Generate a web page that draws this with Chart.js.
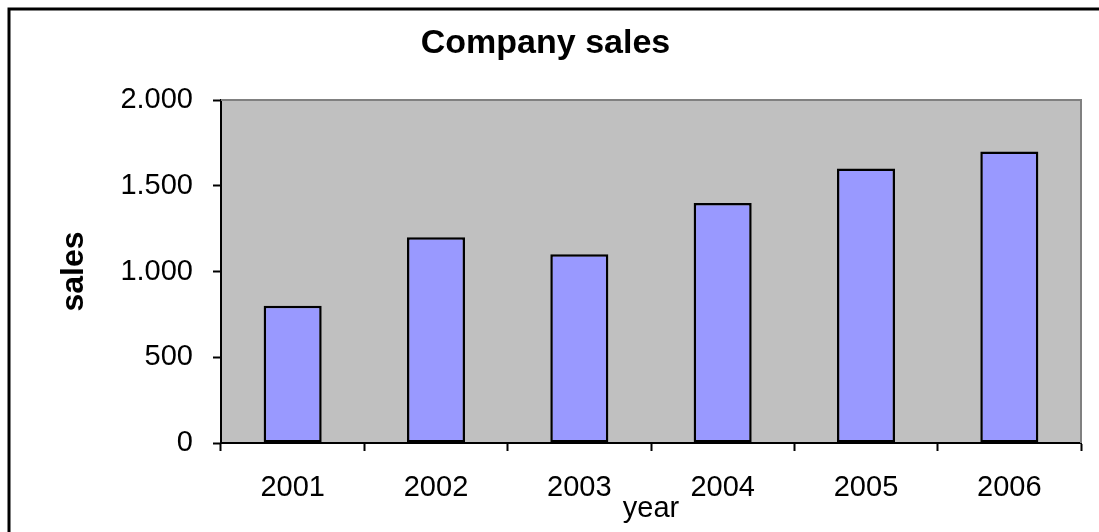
<!DOCTYPE html>
<html>
<head>
<meta charset="utf-8">
<script src="https://cdn.jsdelivr.net/npm/chart.js@4"></script>
<style>
  html, body { margin: 0; padding: 0; background: #fff; }
  #wrap { width: 1099px; height: 532px; }
</style>
</head>
<body>
<div id="wrap"><canvas id="salesChart"></canvas></div>
<script>
// chart data
const years = ['2001', '2002', '2003', '2004', '2005', '2006'];
const sales = [800, 1200, 1100, 1400, 1600, 1700];
const yTicks = [0, 500, 1000, 1500, 2000];

const FONT = "'Liberation Sans', Arial, sans-serif";

// dots as thousands separator, like the original
function fmt(v) {
  return String(v).replace(/\B(?=(\d{3})+(?!\d))/g, '.');
}

// grey plot area + outer frame
const plotBg = {
  id: 'plotBg',
  beforeDraw(chart) {
    const { ctx, chartArea: a } = chart;
    ctx.save();
    ctx.fillStyle = '#C0C0C0';
    ctx.fillRect(a.left, a.top, a.right - a.left, a.bottom - a.top);
    ctx.restore();
  },
  afterDraw(chart) {
    const { ctx, chartArea: a, width, height } = chart;
    ctx.save();
    // top + right edge of plot area
    ctx.strokeStyle = '#808080';
    ctx.lineWidth = 2;
    ctx.beginPath();
    ctx.moveTo(a.left, a.top);
    ctx.lineTo(a.right, a.top);
    ctx.lineTo(a.right, a.bottom);
    ctx.stroke();
    // outer frame (only left and top are visible)
    ctx.strokeStyle = '#000';
    ctx.lineWidth = 3;
    ctx.beginPath();
    ctx.moveTo(9, height);
    ctx.lineTo(9, 9);
    ctx.lineTo(width, 9);
    ctx.stroke();
    ctx.restore();
  }
};

const ctx = document.getElementById('salesChart').getContext('2d');
const salesChart = new Chart(ctx, {
  type: 'bar',
  data: {
    labels: years,
    datasets: [{
      label: 'sales',
      data: sales,
      backgroundColor: '#9999FF',
      borderColor: '#000',
      borderWidth: 2.5,
      borderSkipped: false,
      barPercentage: 0.405,
      categoryPercentage: 1
    }]
  },
  options: {
    responsive: true,
    maintainAspectRatio: false,
    animation: false,
    layout: { padding: { left: 10, right: 18, top: 0, bottom: 0 } },
    plugins: {
      legend: { display: false },
      tooltip: { enabled: false },
      title: {
        display: true,
        text: 'Company sales',
        color: '#000',
        font: { family: FONT, size: 34, weight: 'bold' },
        padding: { top: 23, bottom: 36.2 }
      }
    },
    scales: {
      x: {
        offset: true,
        grid: {
          offset: true,
          drawOnChartArea: false,
          tickLength: 8,
          tickWidth: 2,
          tickColor: '#000'
        },
        border: { color: '#000', width: 2 },
        ticks: {
          color: '#000',
          padding: 20,
          maxRotation: 0,
          font: { family: FONT, size: 29 }
        },
        title: {
          display: true,
          text: 'year',
          color: '#000',
          font: { family: FONT, size: 29 },
          padding: { top: 0, bottom: 6 }
        },
        afterFit(scale) { scale.height = 89; }
      },
      y: {
        min: 0,
        max: 2000,
        afterBuildTicks(scale) {
          scale.ticks = yTicks.map(v => ({ value: v }));
        },
        grid: {
          drawOnChartArea: false,
          tickLength: 8,
          tickWidth: 2,
          tickColor: '#000'
        },
        border: { color: '#000', width: 2 },
        ticks: {
          color: '#000',
          padding: 20,
          font: { family: FONT, size: 29 },
          callback: v => fmt(v)
        },
        title: {
          display: true,
          text: 'sales',
          color: '#000',
          font: { family: FONT, size: 32, weight: 'bold' },
          padding: { top: 45, bottom: 0 }
        },
        afterFit(scale) { scale.width = 211; }
      }
    }
  },
  plugins: [plotBg]
});
</script>
</body>
</html>
